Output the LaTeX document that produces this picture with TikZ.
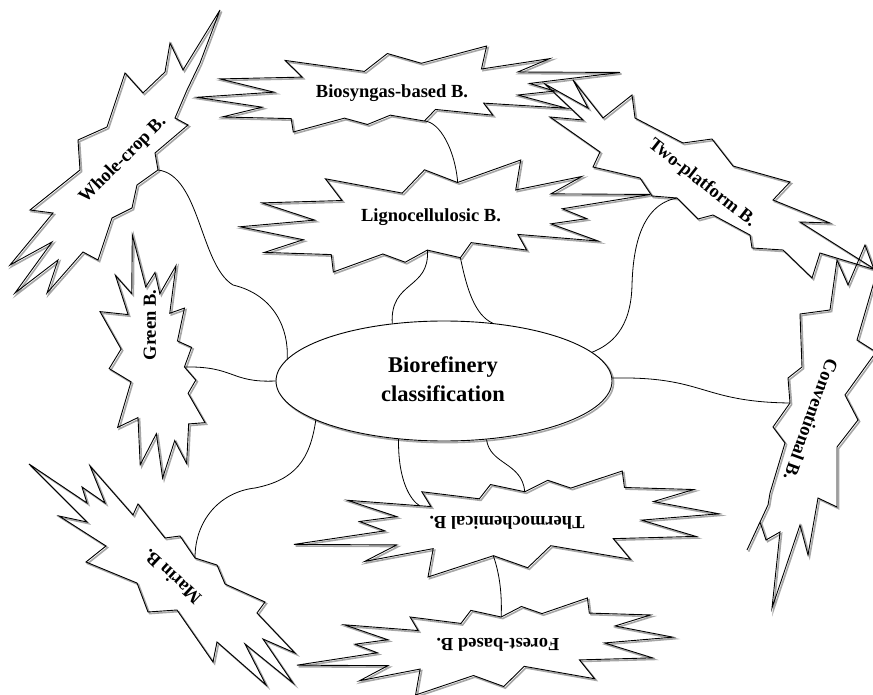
\documentclass[tikz,border=0pt]{standalone}
\usepackage{fontspec}
\setmainfont{Liberation Serif}
\usetikzlibrary{shapes.geometric}
\tikzset{
  sealline/.style={draw=black, line width=0.9pt, line join=miter},
  sealshadow/.style={draw=black!35, line width=1.6pt, line join=miter},
  lbl/.style={font=\fontsize{18.5}{20}\selectfont\bfseries, inner sep=0pt},
  conn/.style={draw=black, line width=0.8pt},
}
\def\sealpath{(0.0306,-0.2990) -- (0.1847,-0.5) -- (0.1725,-0.2325) -- (0.3337,-0.3531) -- (0.2583,-0.1976) -- (0.5,-0.1924) -- (0.2863,-0.0647) -- (0.3458,0.0236) -- (0.2583,0.0699) -- (0.3739,0.2237) -- (0.1778,0.1644) -- (0.1992,0.3042) -- (0.0639,0.2377) -- (0.0376,0.3723) -- (-0.0430,0.3042) -- (-0.0970,0.4126) -- (-0.1515,0.3391) -- (-0.2723,0.5) -- (-0.2775,0.3444) -- (-0.4405,0.3252) -- (-0.3458,0.2116) -- (-0.5,0.0962) -- (-0.3178,0.0367) -- (-0.4457,-0.1171) -- (-0.2513,-0.1381) -- (-0.2916,-0.3322) -- (-0.1042,-0.2045) -- (-0.0499,-0.4126) -- cycle}
\def\wholepath{(220,10) -- (200,63) -- (187,90) -- (175,118) -- (188,125) -- (155,153) -- (158,170) -- (137,185) -- (132,208) -- (112,218) -- (98,260) -- (83,252) -- (47,293) -- (58,260) -- (15,293) -- (52,242) -- (10,265) -- (53,213) -- (30,210) -- (80,170) -- (78,140) -- (107,127) -- (125,73) -- (143,93) -- (165,72) -- (170,43) -- (183,70) -- cycle}
\def\marinpath{(29,464) -- (87,503) -- (82,487) -- (105,503) -- (90,466) -- (133,515) -- (138,504) -- (165,538) -- (180,536) -- (195,558) -- (217,565) -- (225,584) -- (265,602) -- (257,613) -- (295,653) -- (263,639) -- (293,683) -- (245,644) -- (266,685) -- (217,642) -- (213,662) -- (177,610) -- (148,612) -- (137,583) -- (86,562) -- (106,546) -- (59,516) -- (87,522) -- cycle}
\def\convpath{(865,245) -- (876,275) -- (857,340) -- (876,352) -- (845,395) -- (858,420) -- (837,447) -- (837,507) -- (818,498) -- (808,555) -- (800,525) -- (772,608) -- (780,532) -- (766,540) -- (760,522) -- (747,550) -- (768,505) -- (770,493) -- (785,443) -- (773,427) -- (790,403) -- (788,378) -- (802,367) -- (800,314) -- (830,310) -- (837,260) -- (848,285) -- cycle}
\def\twopath{(545,84) -- (588,108) -- (573,80) -- (603,118) -- (632,95) -- (635,118) -- (683,143) -- (712,139) -- (733,166) -- (790,182) -- (773,200) -- (830,223) -- (800,222) -- (876,270) -- (820,253) -- (812,278) -- (783,250) -- (752,248) -- (750,235) -- (713,215) -- (698,219) -- (677,198) -- (652,196) -- (640,178) -- (593,167) -- (600,152) -- (550,117) -- (583,120) -- cycle}
% #1 cx, #2 cy, #3 w, #4 h, #5 angle, #6 style
\newcommand{\sealdraw}[6]{%
  \begin{scope}[shift={(#1,#2)}, rotate=#5, xscale=#3, yscale=#4]
    \path[#6] \sealpath;
  \end{scope}}
\newcommand{\allbursts}[1]{%
  \sealdraw{408.5}{89}{423}{86}{0}{#1}
  \sealdraw{445}{216}{410}{112}{0}{#1}
  \sealdraw{506.5}{524}{425}{106}{180}{#1}
  \sealdraw{485}{646.5}{376}{97}{180}{#1}
  \sealdraw{152.5}{356.5}{243}{105}{90}{#1}
  \path[#1] \wholepath;
  \path[#1] \marinpath;
  \path[#1] \convpath;
  \path[#1] \twopath;}
\begin{document}
\begin{tikzpicture}[x=1pt, y=-1pt]
\useasboundingbox (0,0) rectangle (873,695);
% shadows
\begin{scope}[xshift=1.6pt, yshift=-1.6pt]
  \allbursts{sealshadow}
  \draw[sealshadow] (444,381) ellipse [x radius=168pt, y radius=60pt];
\end{scope}
% bursts
\allbursts{sealline}
% central ellipse
\node[ellipse, draw=black, line width=0.9pt, fill=white, minimum width=336pt, minimum height=120pt, inner sep=0pt] (ell) at (444,381) {};
\node[font=\fontsize{22.5}{29}\selectfont\bfseries, align=center, inner sep=0pt] (elltext) at (443,379) {Biorefinery\\classification};
% labels
\node[lbl] (bio) at (392,93) {Biosyngas-based B.};
\node[lbl] (lig) at (431,217) {Lignocellulosic B.};
\node[lbl, rotate=180] (the) at (507,523) {Thermochemical B.};
\node[lbl, rotate=180] (for) at (498,645) {Forest-based B.};
\node[lbl, rotate=90] (gre) at (150,325) {Green B.};
\node[lbl, rotate=45] (who) at (123,160) {Whole-crop B.};
\node[lbl, rotate=-38] (two) at (702,183) {Two-platform B.};
\node[lbl, rotate=-110] (con) at (811,420) {Conventional B.};
\node[lbl, rotate=137] (mar) at (172,577) {Marin B.};
% attachment points on the bursts
\coordinate (who-p) at (158,170);
\coordinate (bio-p) at (424.4,121);
\coordinate (lig-top) at (457.7,182.5);
\coordinate (lig-p1) at (427.4,250);
\coordinate (lig-p2) at (460.4,257.7);
\coordinate (two-p) at (677,198);
\coordinate (gre-p) at (184.4,367);
\coordinate (con-p) at (790,403);
\coordinate (mar-p) at (195,558);
\coordinate (the-p1) at (420,506);
\coordinate (the-p2) at (524.8,491.8);
\coordinate (the-p3) at (493.3,555.7);
\coordinate (for-p) at (501.2,617);
% connectors
\draw[conn] (who-p) .. controls (200,175) and (200,265) .. (233,285) .. controls (275,295) and (289,330) .. (ell.172);
\draw[conn] (bio-p) .. controls (440,122) and (455,150) .. (lig-top);
\draw[conn] (lig-p1) .. controls (430,290) and (390,280) .. (ell.132);
\draw[conn] (lig-p2) .. controls (467,290) and (475,315) .. (ell.50);
\draw[conn] (two-p) .. controls (640,205) and (633,250) .. (632,285) .. controls (631,330) and (610,345) .. (ell.11);
\draw[conn] (gre-p) .. controls (235,366) and (230,383) .. (ell.180);
\draw[conn] (ell.1) .. controls (705,376) and (700,402) .. (con-p);
\draw[conn] (mar-p) .. controls (195,520) and (220,492) .. (255,488) .. controls (295,480) and (310,460) .. (ell.197);
\draw[conn] (ell.232) .. controls (398,480) and (410,500) .. (the-p1);
\draw[conn] (ell.306) .. controls (490,465) and (522,462) .. (the-p2);
\draw[conn] (the-p3) .. controls (500,575) and (502,595) .. (for-p);
\end{tikzpicture}
\end{document}
